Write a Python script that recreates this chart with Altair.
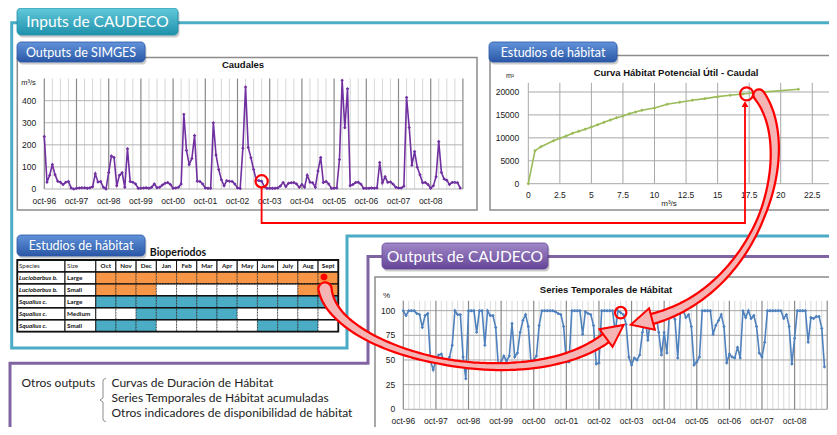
import math
import altair as alt
import numpy as np
import pandas as pd

# ---------------- values ----------------
year_labels = ["oct-96", "oct-97", "oct-98", "oct-99", "oct-00", "oct-01", "oct-02",
               "oct-03", "oct-04", "oct-05", "oct-06", "oct-07", "oct-08"]

# Caudales (SIMGES), monthly m3/s, oct-96 .. sep-09
caudal = [238, 31, 62, 111, 65, 35, 31, 20, 31, 34, 5, 0,
          3, 5, 6, 6, 3, 6, 10, 69, 32, 34, 8, 0,
          75, 149, 143, 15, 62, 74, 8, 182, 34, 31, 23, 3,
          3, 5, 6, 3, 8, 23, 6, 8, 18, 26, 29, 20,
          3, 5, 8, 23, 338, 174, 111, 138, 242, 35, 34, 23,
          5, 3, 3, 300, 154, 88, 42, 15, 38, 35, 34, 23,
          5, 2, 185, 462, 188, 142, 88, 40, 38, 35, 10, 3,
          3, 3, 3, 5, 14, 29, 11, 26, 28, 29, 23, 8,
          20, 8, 62, 31, 28, 8, 82, 143, 29, 34, 23, 3,
          3, 5, 134, 492, 277, 454, 15, 20, 29, 31, 22, 3,
          3, 3, 5, 3, 5, 120, 28, 55, 30, 32, 22, 8,
          5, 5, 12, 415, 278, 108, 170, 98, 65, 28, 30, 20,
          3, 15, 55, 215, 75, 45, 40, 20, 30, 30, 28, 5]

# Series Temporales de Habitat, monthly %, oct-96 .. sep-09
habitat_pct = [100, 95, 100, 100, 100, 97, 96, 83, 95, 97, 49, 40,
               50, 55, 56, 49, 46, 53, 65, 100, 96, 96, 53, 31,
               100, 100, 100, 78, 100, 100, 65, 100, 95, 95, 83, 43,
               48, 54, 49, 54, 87, 53, 57, 78, 90, 96, 84, 48,
               50, 54, 85, 100, 100, 100, 100, 100, 99, 97, 96, 84,
               48, 48, 100, 100, 100, 100, 76, 99, 97, 96, 85, 46,
               47, 100, 100, 100, 100, 100, 78, 100, 98, 96, 86, 53,
               45, 52, 50, 55, 78, 93, 70, 92, 92, 95, 78, 55,
               78, 57, 100, 96, 91, 52, 100, 100, 93, 96, 84, 45,
               48, 53, 100, 100, 100, 100, 76, 85, 90, 96, 84, 47,
               56, 53, 52, 63, 52, 100, 93, 100, 92, 95, 84, 57,
               53, 68, 100, 100, 100, 100, 100, 100, 92, 96, 84, 46,
               72, 100, 100, 100, 100, 68, 93, 92, 94, 94, 82, 43]

# Curva Habitat Potencial Util - Caudal
curve_q = [0, 0.53, 1, 2, 2.5, 3, 3.5, 4, 4.5, 5, 5.5, 6, 6.5, 7, 7.5, 8, 8.5, 9,
           10, 11, 12, 13, 14, 15, 16, 17, 18, 21.4]
curve_a = [0, 7200, 8070, 9380, 9890, 10400, 10980, 11420, 11850, 12360, 12870, 13380,
           13890, 14400, 14760, 15270, 15640, 16000, 16510, 17310, 17750, 18180, 18550,
           18980, 19270, 19560, 19850, 20580]

caudal_yticks = [0, 100, 200, 300, 400]
pct_yticks = [0, 25, 50, 75, 100]
curve_xticks = [0, 2.5, 5, 7.5, 10, 12.5, 15, 17.5, 20, 22.5]
curve_yticks = [0, 5000, 10000, 15000, 20000]

bio_months = ["Oct", "Nov", "Dec", "Jan", "Feb", "Mar", "Apr", "May", "June", "July", "Aug", "Sept"]
bio_species = ["Luciobarbus b.", "Luciobarbus b.", "Squalius c.", "Squalius c.", "Squalius c."]
bio_genus = ["Luciobarbus", "Luciobarbus", "Squalius", "Squalius", "Squalius"]
bio_sizes = ["Large", "Small", "Large", "Medium", "Small"]
bio_active = [
    [1, 1, 1, 1, 1, 1, 1, 1, 1, 1, 1, 1],
    [1, 1, 1, 0, 0, 0, 0, 0, 0, 0, 1, 1],
    [1, 1, 1, 1, 1, 1, 1, 1, 1, 1, 1, 1],
    [0, 0, 1, 1, 1, 1, 1, 0, 0, 0, 0, 0],
    [1, 1, 1, 0, 0, 0, 0, 0, 1, 1, 1, 0],
]

otros = ["Curvas de Duración de Hábitat",
         "Series Temporales de Hábitat acumuladas",
         "Otros indicadores de disponibilidad de hábitat"]

hl_caudal_month = 81
hl_pct_month = 80
hl_curve = (17.3, 19600)

# ---------------- layout / styles ----------------
OX, OY, W, H = 8, 8, 821, 419
PXS = alt.Scale(domain=[OX, OX + W], range=[0, W], nice=False, zero=False)
PYS = alt.Scale(domain=[OY, OY + H], range=[0, H], nice=False, zero=False)
TEAL, PURPLE, GRAY = "#4BACC6", "#8064A2", "#8C8C8C"
RED, PINK = "#FF0000", "#F5B5B5"
CF = "Liberation Sans"
TF = "Lato"


def sc(lo, hi, p_lo, p_hi, off):
    return alt.Scale(domain=[lo, hi], range=[p_lo - off, p_hi - off], nice=False, zero=False)


def X(f, s):
    return alt.X(f, scale=s, axis=None)


def Y(f, s):
    return alt.Y(f, scale=s, axis=None)


def ppath(pts, **mk):
    df = pd.DataFrame({"x": [p[0] for p in pts], "y": [p[1] for p in pts], "o": list(range(len(pts)))})
    return alt.Chart(df).mark_line(**mk).encode(x=X("x:Q", PXS), y=Y("y:Q", PYS), order="o:Q")


def prect(x0, y0, x1, y1, **mk):
    df = pd.DataFrame({"x": [x0], "x2": [x1], "y": [y0], "y2": [y1]})
    return alt.Chart(df).mark_rect(**mk).encode(x=X("x:Q", PXS), x2="x2:Q", y=Y("y:Q", PYS), y2="y2:Q")


def ptext(items, **mk):
    df = pd.DataFrame(items, columns=["x", "y", "t"])
    return alt.Chart(df).mark_text(**mk).encode(x=X("x:Q", PXS), y=Y("y:Q", PYS), text="t:N")


def vrules(vals, XS, YS, y0, y1, color, width):
    df = pd.DataFrame({"v": vals, "a": y0, "b": y1})
    return alt.Chart(df).mark_rule(color=color, strokeWidth=width).encode(
        x=X("v:Q", XS), y=Y("a:Q", YS), y2="b:Q")


def hrules(vals, XS, YS, x0, x1, color, width):
    df = pd.DataFrame({"v": vals, "a": x0, "b": x1})
    return alt.Chart(df).mark_rule(color=color, strokeWidth=width).encode(
        y=Y("v:Q", YS), x=X("a:Q", XS), x2="b:Q")


def xlabels(vals, texts, XS, YS, y0, dy):
    df = pd.DataFrame({"v": vals, "a": y0, "t": texts})
    return alt.Chart(df).mark_text(dy=dy, font=CF, fontSize=8.5, color="#1A1A1A").encode(
        x=X("v:Q", XS), y=Y("a:Q", YS), text="t:N")


def ylabels(vals, XS, YS, x0, dx):
    df = pd.DataFrame({"v": vals, "a": x0, "t": [f"{v:g}" for v in vals]})
    return alt.Chart(df).mark_text(dx=dx, align="right", font=CF, fontSize=8.5, color="#1A1A1A").encode(
        y=Y("v:Q", YS), x=X("a:Q", XS), text="t:N")


def series(df, xf, yf, XS, YS, color, psize=10):
    base = alt.Chart(df).encode(x=X(xf, XS), y=Y(yf, YS))
    return [base.mark_line(color=color, strokeWidth=1.6),
            base.mark_point(shape="diamond", filled=True, color=color, size=psize, opacity=1)]


def grad(top, bottom):
    return alt.Gradient(gradient="linear", x1=0, x2=0, y1=0, y2=1,
                        stops=[alt.GradientStop(color=top, offset=0),
                               alt.GradientStop(color=bottom, offset=1)])


def tab(x0, y0, x1, y1, label, top, bottom, fs):
    return [prect(x0 + 1.5, y0 + 2.5, x1 + 1.5, y1 + 2.5, fill="#000000", opacity=0.2, cornerRadius=4),
            prect(x0, y0, x1, y1, fill=grad(top, bottom), stroke=bottom, strokeWidth=0.8, cornerRadius=4),
            ptext([((x0 + x1) / 2, (y0 + y1) / 2 + 0.5, label)], font=TF, fontSize=fs, color="white")]


def bez(P, n=60):
    t = np.linspace(0, 1, n)
    P = np.array(P, float)
    pts = (((1 - t) ** 3)[:, None] * P[0] + (3 * (1 - t) ** 2 * t)[:, None] * P[1]
           + (3 * (1 - t) * t ** 2)[:, None] * P[2] + (t ** 3)[:, None] * P[3])
    return t, pts


def curved_arrow(P, wstops, head=22):
    t, pts = bez(P)
    w = np.interp(t, [s[0] for s in wstops], [s[1] for s in wstops])
    df = pd.DataFrame({"x": pts[:, 0], "y": pts[:, 1], "w": w, "w2": w + 4.5, "o": np.arange(len(t))})
    enc = dict(x=X("x:Q", PXS), y=Y("y:Q", PYS), order="o:Q")
    outer = alt.Chart(df).mark_trail(color=RED).encode(size=alt.Size("w2:Q", scale=None), **enc)
    inner = alt.Chart(df).mark_trail(color=PINK).encode(size=alt.Size("w:Q", scale=None), **enc)
    d = np.array(P[3], float) - np.array(P[2], float)
    d = d / np.hypot(*d)
    ang = math.degrees(math.atan2(d[0], -d[1])) % 360
    c = np.array(P[3], float) + d * head / 2
    hdf = pd.DataFrame({"x": [c[0]], "y": [c[1]]})
    hd = alt.Chart(hdf).mark_point(shape="M0,-1L1,1L-1,1Z", filled=True, fill=PINK, stroke=RED,
                                   strokeWidth=2, size=head * head, angle=ang, opacity=1).encode(
        x=X("x:Q", PXS), y=Y("y:Q", PYS))
    return [outer, inner, hd]


layers = []

# ---- section frames
layers += [
    ppath([(17, 22.7), (11.7, 22.7), (11.7, 348), (347, 348), (347, 236), (840, 236)], color=TEAL, strokeWidth=3),
    ppath([(178, 22.7), (840, 22.7)], color=TEAL, strokeWidth=3),
    ppath([(382, 256.5), (368, 256.5), (368, 363.3), (10, 363.3), (10, 440)], color=PURPLE, strokeWidth=3),
    ppath([(548, 256.5), (840, 256.5)], color=PURPLE, strokeWidth=3),
]

# ---- chart frames
layers += [
    prect(17.3, 57.5, 477, 210, fill="white", stroke=GRAY, strokeWidth=1.5),
    prect(490, 55.5, 840, 210, fill="white", stroke=GRAY, strokeWidth=1.5),
    prect(375, 277, 840, 431, fill="white", stroke=GRAY, strokeWidth=1.5),
]

# ---- Caudales
CX = sc(0, 156, 44.3, 462.9, OX)
CY = sc(0, 500, 189.0, 78.6, OY)
c_df = pd.DataFrame({"i": range(len(caudal)), "q": caudal})
layers += [
    vrules([m for m in range(0, 157, 3) if m % 12], CX, CY, 0, 500, "#D6D6D6", 1),
    hrules(caudal_yticks, CX, CY, 0, 156, "#B3B3B3", 1),
    vrules(list(range(0, 157, 12)), CX, CY, 0, 500, "#8A8A8A", 1.2),
]
layers += series(c_df, "i:Q", "q:Q", CX, CY, "#7030A0", 12)
layers += [
    xlabels(list(range(0, 145, 12)), year_labels, CX, CY, 0, 12),
    ylabels(caudal_yticks, CX, CY, 0, -8),
    ptext([(243, 65, "Caudales")], font=CF, fontSize=9.5, fontWeight="bold", color="#111"),
    ptext([(28.5, 83, "m³/s")], font=CF, fontSize=7.5, color="#222"),
]

# ---- Curva habitat - caudal
HX = sc(0, 24, 528.3, 831.2, OX)
HY = sc(0, 22000, 183.7, 82.8, OY)
h_df = pd.DataFrame({"q": curve_q, "a": curve_a})
layers += [
    vrules(curve_xticks, HX, HY, 0, 22000, "#A8A8A8", 1),
    hrules(curve_yticks, HX, HY, 0, 24, "#A8A8A8", 1),
]
layers += series(h_df, "q:Q", "a:Q", HX, HY, "#9BBB59", 12)
layers += [
    xlabels(curve_xticks, [f"{v:g}" for v in curve_xticks], HX, HY, 0, 11.5),
    ylabels(curve_yticks, HX, HY, 0, -9),
    ptext([(676, 73, "Curva Hábitat Potencial Útil - Caudal")], font=CF, fontSize=9.5, fontWeight="bold", color="#111"),
    ptext([(510, 76, "m²")], font=CF, fontSize=7, color="#222"),
    ptext([(669, 203.5, "m³/s")], font=CF, fontSize=8, color="#222"),
]

# ---- Series temporales de habitat
SX = sc(0, 156, 403.3, 827.2, OX)
SY = sc(0, 110, 409.3, 300.8, OY)
s_df = pd.DataFrame({"i": range(len(habitat_pct)), "p": habitat_pct})
layers += [
    vrules([m for m in range(0, 157, 2) if m % 12], SX, SY, 0, 110, "#D9D9D9", 1),
    hrules(pct_yticks, SX, SY, 0, 156, "#A6A6A6", 1),
    vrules(list(range(0, 157, 12)), SX, SY, 0, 110, "#8A8A8A", 1.2),
]
layers += series(s_df, "i:Q", "p:Q", SX, SY, "#4F81BD", 12)
layers += [
    xlabels(list(range(0, 145, 12)), year_labels, SX, SY, 0, 11.5),
    ylabels(pct_yticks, SX, SY, 0, -8),
    ptext([(606, 289.5, "Series Temporales de Hábitat")], font=CF, fontSize=9.5, fontWeight="bold", color="#111"),
    ptext([(386.5, 296, "%")], font=CF, fontSize=8, color="#222"),
]

# ---- Bioperiodos table
row_keys = ["h", "r1", "r2", "r3", "r4", "r5"]
TXS = alt.Scale(type="band", domain=bio_months, range=[95.7 - OX, 338.3 - OX], paddingInner=0, paddingOuter=0)
TYS = alt.Scale(type="band", domain=row_keys, range=[260 - OY, 331.7 - OY], paddingInner=0, paddingOuter=0)
cells = []
for r in range(len(bio_species)):
    for m, mon in enumerate(bio_months):
        cells.append({"row": row_keys[r + 1], "month": mon,
                      "state": bio_genus[r] if bio_active[r][m] else "none"})
cells_df = pd.DataFrame(cells)
hdr_df = pd.DataFrame({"row": "h", "month": bio_months})
lab_df = pd.DataFrame({"row": row_keys, "sp": ["Species"] + bio_species, "sz": ["Size"] + bio_sizes,
                       "hdr": [1, 0, 0, 0, 0, 0]})
layers += [
    alt.Chart(cells_df).mark_rect(stroke="#1A1A1A", strokeWidth=0.7, strokeDash=[1.6, 1.2]).encode(
        x=X("month:N", TXS), y=Y("row:N", TYS),
        color=alt.Color("state:N", legend=None,
                        scale=alt.Scale(domain=["Luciobarbus", "Squalius", "none"],
                                        range=["#F79646", "#4BACC6", "#FFFFFF"]))),
    alt.Chart(hdr_df).mark_rect(fill="white", stroke="#111", strokeWidth=1).encode(
        x=X("month:N", TXS), y=Y("row:N", TYS)),
    alt.Chart(hdr_df).mark_text(font=TF, fontSize=6.3, fontWeight="bold", color="#111").encode(
        x=X("month:N", TXS), y=Y("row:N", TYS), text="month:N"),
    alt.Chart(lab_df).mark_rect(fill="white", stroke="#111", strokeWidth=1).encode(
        x=alt.value(17.3 - OX), x2=alt.value(65 - OX), y=Y("row:N", TYS)),
    alt.Chart(lab_df).mark_rect(fill="white", stroke="#111", strokeWidth=1).encode(
        x=alt.value(65 - OX), x2=alt.value(95.7 - OX), y=Y("row:N", TYS)),
    alt.Chart(lab_df[lab_df.hdr == 1]).mark_text(font=TF, fontSize=6.3, align="left", color="#333").encode(
        x=alt.value(19 - OX), y=Y("row:N", TYS), text="sp:N"),
    alt.Chart(lab_df[lab_df.hdr == 1]).mark_text(font=TF, fontSize=6.3, align="left", color="#333").encode(
        x=alt.value(67 - OX), y=Y("row:N", TYS), text="sz:N"),
    alt.Chart(lab_df[lab_df.hdr == 0]).mark_text(font=TF, fontSize=6.3, align="left", fontStyle="italic",
                                                 fontWeight="bold", color="#111").encode(
        x=alt.value(19 - OX), y=Y("row:N", TYS), text="sp:N"),
    alt.Chart(lab_df[lab_df.hdr == 0]).mark_text(font=TF, fontSize=6.3, align="left", fontWeight="bold",
                                                 color="#111").encode(
        x=alt.value(67 - OX), y=Y("row:N", TYS), text="sz:N"),
]
for yb in [271.9, 283.9, 295.8, 307.8, 319.7]:
    layers.append(ppath([(17.3, yb), (338.3, yb)], color="#111", strokeWidth=1.4))
layers += [
    prect(17.3, 260, 338.3, 331.7, fillOpacity=0, stroke="#111", strokeWidth=1.8),
    ptext([(178, 252.5, "Bioperiodos")], font=TF, fontSize=10.5, fontWeight="bold", color="#111"),
]

# ---- tabs
layers += tab(17, 8, 178, 35, "Inputs de CAUDECO", "#62C9DA", "#1F91AB", 15.5)
layers += tab(17, 42, 145, 62, "Outputs de SIMGES", "#6193DA", "#2A57A6", 12.5)
layers += tab(489, 42, 617, 62, "Estudios de hábitat", "#6193DA", "#2A57A6", 12.5)
layers += tab(17, 235, 145, 256, "Estudios de hábitat", "#6193DA", "#2A57A6", 12.5)
layers += tab(382, 243, 548, 269, "Outputs de CAUDECO", "#A188C8", "#644597", 15.5)

# ---- otros outputs
layers += [
    ptext([(21.5, 383.3, "Otros outputs")], font=TF, fontSize=12, align="left", color="#222"),
    ptext([(111.5, 383.3 + 15 * k, s) for k, s in enumerate(otros)], font=TF, fontSize=12, align="left", color="#222"),
    ppath([(106, 378), (103, 380), (103, 398), (100, 400), (103, 402), (103, 420), (106, 422)],
          color="#8C8C8C", strokeWidth=1),
]

# ---- red connectors and highlights
layers += [
    ppath([(261.6, 188), (261.6, 223), (745, 223), (745, 107)], color=RED, strokeWidth=1.8),
    alt.Chart(pd.DataFrame({"x": [745], "y": [104]})).mark_point(
        shape="triangle-up", filled=True, color=RED, size=45, opacity=1).encode(x=X("x:Q", PXS), y=Y("y:Q", PYS)),
    alt.Chart(pd.DataFrame({"i": [hl_caudal_month], "q": [caudal[hl_caudal_month]]})).mark_point(
        shape="circle", filled=False, color=RED, strokeWidth=2.2, size=150, opacity=1).encode(
        x=X("i:Q", CX), y=Y("q:Q", CY)),
    alt.Chart(pd.DataFrame({"q": [hl_curve[0]], "a": [hl_curve[1]]})).mark_point(
        shape="circle", filled=False, color=RED, strokeWidth=2.2, size=170, opacity=1).encode(
        x=X("q:Q", HX), y=Y("a:Q", HY)),
    alt.Chart(pd.DataFrame({"i": [hl_pct_month], "p": [habitat_pct[hl_pct_month]]})).mark_point(
        shape="circle", filled=False, color=RED, strokeWidth=2.2, size=130, opacity=1).encode(
        x=X("i:Q", SX), y=Y("p:Q", SY)),
]
for a in (0, 45):
    layers.append(alt.Chart(pd.DataFrame({"x": [324], "y": [277]})).mark_point(
        shape="cross", filled=True, color=RED, size=45, angle=a, opacity=1).encode(
        x=X("x:Q", PXS), y=Y("y:Q", PYS)))

layers += curved_arrow([(759, 95), (800, 150), (760, 290), (652, 319)],
                       [(0, 9), (0.15, 7), (0.5, 3.5), (0.85, 6), (1, 8)])
layers += curved_arrow([(325, 289), (335, 355), (525, 398), (606, 338)],
                       [(0, 11), (0.15, 7), (0.5, 3.5), (0.85, 6), (1, 8)])

chart = alt.layer(*layers).resolve_scale(x="independent", y="independent", color="independent").properties(
    width=W, height=H, padding=0, autosize=alt.AutoSizeParams(type="none"), background="white"
).configure_view(strokeWidth=0)

chart.save("out.html", embed_options={"renderer": "svg", "actions": False})
